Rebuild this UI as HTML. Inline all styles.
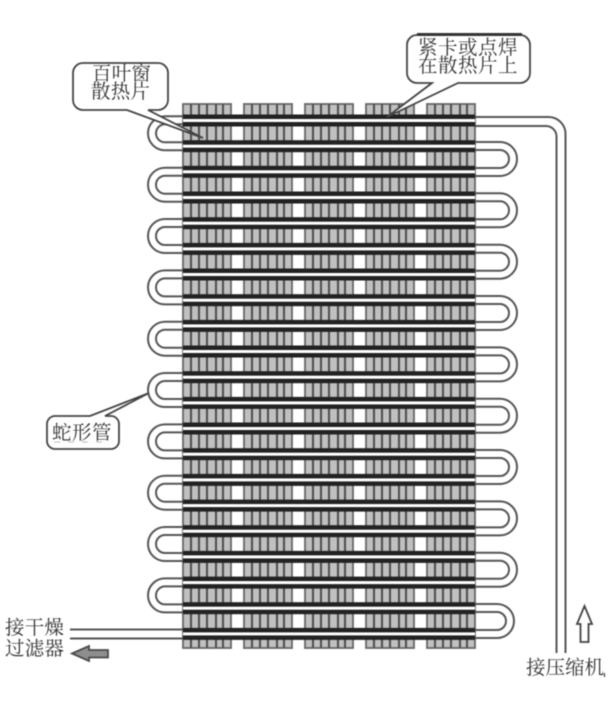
<!DOCTYPE html>
<html><head><meta charset="utf-8">
<style>
html,body{margin:0;padding:0;background:#fff;width:611px;height:701px;overflow:hidden}
svg{display:block;filter:blur(.4px)}
text{font-family:"Noto Serif CJK SC","Noto Serif CJK JP",serif;font-weight:400;fill:#333;font-size:19.500px}
</style></head>
<body>
<svg width="611" height="701" viewBox="0 0 611 701" xmlns="http://www.w3.org/2000/svg">
<defs>
<g id="col">
  <rect x="0" y="104" width="48" height="544" fill="#c0c0c0" stroke="#666" stroke-width="1.800"/>
  <path d="M8 104V648M16 104V648M24 104V648M33 104V648M40 104V648" stroke="#505050" stroke-width="2.100" fill="none"/>
</g>
<g id="tube">
  <rect x="183" y="-6" width="292" height="12" fill="#222"/>
  <rect x="183" y="-1.500" width="292" height="3" fill="#fff"/>
</g>
<g id="lb" fill="none" stroke="#555" stroke-width="2">
  <path d="M183 -17H165A17 17 0 0 0 165 17H183"/>
  <path d="M183 -9H165A9 9 0 0 0 165 9H183"/>
</g>
<g id="rb" fill="none" stroke="#555" stroke-width="2">
  <path d="M475 -17H500A17 17 0 0 1 500 17H475"/>
  <path d="M475 -9H500A9 9 0 0 1 500 9H475"/>
</g>
</defs>

<!-- fins -->
<use href="#col" x="183"/>
<use href="#col" x="244"/>
<use href="#col" x="305"/>
<use href="#col" x="366"/>
<use href="#col" x="427"/>

<!-- left bends -->
<use href="#lb" y="133.300"/>
<use href="#lb" y="184.700"/>
<use href="#lb" y="236"/>
<use href="#lb" y="287.400"/>
<use href="#lb" y="338.700"/>
<use href="#lb" y="390"/>
<use href="#lb" y="441.400"/>
<use href="#lb" y="492.700"/>
<use href="#lb" y="544"/>
<use href="#lb" y="595.400"/>

<!-- right bends -->
<use href="#rb" y="159"/>
<use href="#rb" y="210.300"/>
<use href="#rb" y="261.700"/>
<use href="#rb" y="313"/>
<use href="#rb" y="364.400"/>
<use href="#rb" y="415.700"/>
<use href="#rb" y="467"/>
<use href="#rb" y="518.400"/>
<use href="#rb" y="569.700"/>
<use href="#rb" y="621" transform="translate(-3,0)"/>

<!-- tubes -->
<use href="#tube" y="120.500"/>
<use href="#tube" y="146.200"/>
<use href="#tube" y="171.800"/>
<use href="#tube" y="197.500"/>
<use href="#tube" y="223.200"/>
<use href="#tube" y="248.900"/>
<use href="#tube" y="274.500"/>
<use href="#tube" y="300.200"/>
<use href="#tube" y="325.900"/>
<use href="#tube" y="351.500"/>
<use href="#tube" y="377.200"/>
<use href="#tube" y="402.900"/>
<use href="#tube" y="428.500"/>
<use href="#tube" y="454.200"/>
<use href="#tube" y="479.900"/>
<use href="#tube" y="505.600"/>
<use href="#tube" y="531.200"/>
<use href="#tube" y="556.900"/>
<use href="#tube" y="582.600"/>
<use href="#tube" y="608.200"/>
<use href="#tube" y="633.900"/>

<!-- outlet pipes -->
<g fill="none" stroke="#555" stroke-width="2">
  <path d="M475 117H548A17 17 0 0 1 565.500 134V653"/>
  <path d="M475 126H546A10.500 10.500 0 0 1 556.500 136.500V653"/>
  <path d="M70 629.500H183"/>
  <path d="M70 638.500H183"/>
</g>

<!-- arrows -->
<path d="M72 653.500L89 646V650H108V657.500H89V661Z" fill="#8e8e8e" stroke="#4a4a4a" stroke-width="1.800"/>
<path d="M584.500 606L592 624H588.500V642H580.500V624H577Z" fill="#fff" stroke="#444" stroke-width="1.800"/>

<!-- callouts -->
<path d="M83 63H158A10 10 0 0 1 168 73V100A10 10 0 0 1 158 110H148L203 138L127 110H83A10 10 0 0 1 73 100V73A10 10 0 0 1 83 63Z" fill="#fff" stroke="#444" stroke-width="1.800"/>
<path d="M417 35H520A10 10 0 0 1 530 45V73A10 10 0 0 1 520 83H458L387 117L432 83H417A10 10 0 0 1 407 73V45A10 10 0 0 1 417 35Z" fill="#fff" stroke="#444" stroke-width="1.800"/>
<path d="M417 34.500H522" stroke="#333" stroke-width="3" fill="none"/>
<path d="M55 416H90L149 393L105 416H111A8 8 0 0 1 119 424V441A8 8 0 0 1 111 449H55A8 8 0 0 1 47 441V424A8 8 0 0 1 55 416Z" fill="#fff" stroke="#444" stroke-width="1.800"/>
<path d="M54 442H110" stroke="#bbb" stroke-width="1" stroke-dasharray="6 8" fill="none"/>

<!-- labels -->
<text x="92" y="80" style="letter-spacing:.2px">百叶窗</text>
<text x="91" y="98" style="letter-spacing:.2px">散热片</text>
<text x="418" y="54" style="letter-spacing:.5px">紧卡或点焊</text>
<text x="418" y="72" style="letter-spacing:.5px">在散热片上</text>
<text x="52" y="439" style="letter-spacing:.5px">蛇形管</text>
<text x="5" y="634" style="letter-spacing:.2px">接干燥</text>
<text x="5" y="655" style="letter-spacing:.2px">过滤器</text>
<text x="526" y="674">接压缩机</text>
<path d="M604.500 673V677" stroke="#444" stroke-width="1.200"/>
</svg>
</body></html>
